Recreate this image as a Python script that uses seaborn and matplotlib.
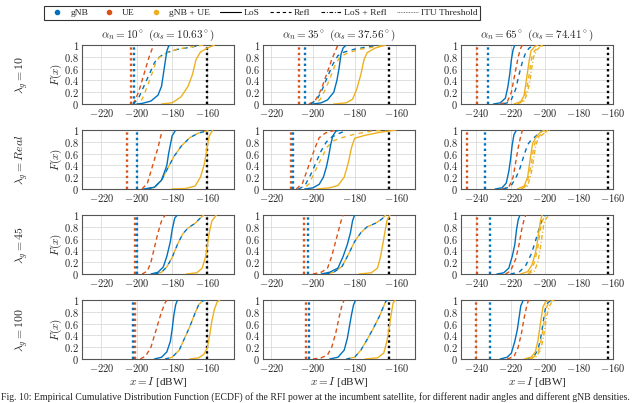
import matplotlib
matplotlib.use("Agg")
import matplotlib.pyplot as plt
import seaborn as sns
import pandas as pd
from matplotlib.lines import Line2D

# ---------------- data ----------------
lambda_labels = ["10", "Real", "45", "100"]
alpha_n = [10, 35, 65]
alpha_s = [10.63, 37.56, 74.41]
x_ticks = [[-220, -200, -180, -160],
           [-220, -200, -180, -160],
           [-240, -220, -200, -180, -160]]
y_ticks = [0, 0.2, 0.4, 0.6, 0.8, 1]

# vertical (deterministic) levels: UE, gNB, ITU threshold  [dBW]
vlines = {
    (0, 0): (-203.0, -201.5, -160.0), (0, 1): (-206.8, -203.7, -163.4), (0, 2): (-239.5, -233.3, -163.0),
    (1, 0): (-205.6, -200.0, -160.0), (1, 1): (-210.5, -209.8, -163.4), (1, 2): (-245.3, -234.7, -163.0),
    (2, 0): (-201.0, -200.0, -160.2), (2, 1): (-204.5, -202.6, -163.4), (2, 2): (-239.5, -232.2, -163.0),
    (3, 0): (-201.0, -202.0, -160.0), (3, 1): (-203.4, -201.8, -163.4), (3, 2): (-240.0, -231.8, -163.0),
}

# ECDF points (x [dBW], F) per panel, row = lambda_g, col = alpha_n
p00 = {
    "ue_refl": [(-202, 0), (-199, 0.2), (-196, 0.5), (-193, 0.8), (-190.5, 1)],
    "gnb_refl": [(-202, 0), (-199, 0.1), (-196, 0.3), (-193, 0.5), (-190, 0.7), (-188, 0.78), (-184, 0.86), (-178, 0.92), (-170, 0.96), (-163, 1)],
    "all_refl": [(-199, 0), (-197, 0.08), (-194, 0.3), (-191, 0.55), (-189, 0.72), (-187, 0.8), (-183, 0.87), (-177, 0.93), (-169, 0.97), (-162, 1)],
    "gnb_los": [(-200, 0), (-197, 0.01), (-192, 0.05), (-188, 0.15), (-186, 0.3), (-185, 0.5), (-184, 0.7), (-183, 0.9), (-182, 0.98), (-181, 1)],
    "all_los": [(-186, 0), (-180, 0.02), (-175, 0.12), (-171, 0.3), (-168.5, 0.5), (-166.5, 0.75), (-164, 0.88), (-160, 0.95), (-156, 1)],
}
p01 = {
    "ue_refl": [(-202, 0), (-199, 0.05), (-196, 0.25), (-193, 0.55), (-191, 0.75), (-189, 0.92), (-188, 1)],
    "gnb_refl": [(-201, 0), (-198, 0.08), (-195.5, 0.25), (-193.5, 0.42), (-190.5, 0.67), (-188, 0.82), (-185, 0.88), (-180, 0.93), (-175, 0.96), (-167, 1)],
    "all_refl": [(-199, 0), (-196.5, 0.08), (-194, 0.25), (-192, 0.42), (-189.5, 0.65), (-187, 0.8), (-183, 0.87), (-177, 0.93), (-170, 0.97), (-165, 1)],
    "gnb_los": [(-200, 0), (-196, 0.02), (-193, 0.07), (-190, 0.2), (-188.5, 0.4), (-187.5, 0.6), (-186.5, 0.85), (-185.5, 0.95), (-184, 1)],
    "all_los": [(-190, 0), (-184, 0.02), (-181, 0.08), (-179, 0.25), (-177, 0.5), (-175.5, 0.75), (-174, 0.87), (-170, 0.95), (-165, 1)],
}
p02 = {
    "ue_refl": [(-226, 0), (-222, 0.03), (-219.5, 0.2), (-217.5, 0.5), (-215.5, 0.8), (-214, 0.95), (-213, 1)],
    "gnb_refl": [(-224, 0), (-220, 0.04), (-217, 0.25), (-215, 0.5), (-213, 0.72), (-211, 0.88), (-209, 0.95), (-206, 1)],
    "all_refl": [(-217, 0), (-213, 0.05), (-211, 0.2), (-209.5, 0.42), (-208.5, 0.62), (-207.5, 0.8), (-206, 0.9), (-204, 0.96), (-201, 1)],
    "gnb_los": [(-230, 0), (-226, 0.02), (-223, 0.1), (-221.5, 0.3), (-220.5, 0.5), (-219.5, 0.75), (-218.5, 0.92), (-217.5, 1)],
    "all_los": [(-218, 0), (-214, 0.04), (-212, 0.15), (-211, 0.35), (-210, 0.55), (-209, 0.75), (-208, 0.9), (-206, 0.97), (-204, 1)],
    "all_lr": [(-216, 0), (-212, 0.05), (-210, 0.2), (-208.5, 0.42), (-207.5, 0.62), (-206.5, 0.8), (-205, 0.9), (-203, 0.96), (-200, 1)],
}
p10 = {
    "ue_refl": [(-197, 0), (-194, 0.1), (-191, 0.4), (-188, 0.7), (-186, 0.95), (-185, 1)],
    "gnb_refl": [(-194, 0), (-190, 0.03), (-186, 0.15), (-182, 0.38), (-179, 0.55), (-175, 0.72), (-170, 0.87), (-165, 0.95), (-158, 1)],
    "all_refl": [(-194, 0), (-190, 0.03), (-186, 0.15), (-182, 0.38), (-179, 0.55), (-175, 0.72), (-170, 0.87), (-165, 0.95), (-158, 1)],
    "gnb_los": [(-196, 0), (-190, 0.03), (-186, 0.15), (-183, 0.4), (-182, 0.6), (-180, 0.9), (-178, 1)],
    "all_los": [(-180, 0), (-172, 0.01), (-167, 0.05), (-164, 0.2), (-162, 0.4), (-161, 0.55), (-160, 0.75), (-159, 0.9), (-157, 1)],
}
p11 = {
    "ue_refl": [(-208, 0), (-205, 0.1), (-203, 0.3), (-201, 0.5), (-199, 0.7), (-197, 0.87), (-194, 0.95), (-190, 0.99), (-188, 1)],
    "gnb_refl": [(-207, 0), (-204, 0.05), (-201, 0.25), (-198.5, 0.45), (-196, 0.65), (-193.5, 0.8), (-191, 0.88), (-187, 0.95), (-183, 1)],
    "all_refl": [(-205, 0), (-202, 0.08), (-199, 0.3), (-196, 0.52), (-193, 0.72), (-190, 0.82), (-186, 0.87), (-180, 0.93), (-172, 0.98), (-165, 1)],
    "gnb_los": [(-204, 0), (-200, 0.02), (-197, 0.08), (-195, 0.2), (-193.5, 0.38), (-192.5, 0.55), (-191.5, 0.75), (-190.5, 0.9), (-189, 0.98), (-187, 1)],
    "all_los": [(-198, 0), (-192, 0.02), (-188, 0.06), (-185, 0.2), (-183, 0.45), (-181.5, 0.7), (-180, 0.86), (-175, 0.91), (-168, 0.96), (-160, 1)],
}
p12 = {
    "ue_refl": [(-225, 0), (-221, 0.03), (-218.5, 0.2), (-217, 0.45), (-215.5, 0.7), (-214, 0.9), (-213, 1)],
    "gnb_refl": [(-224, 0), (-220, 0.04), (-217, 0.18), (-214.5, 0.35), (-212, 0.58), (-210, 0.75), (-208, 0.83), (-205, 0.9), (-201, 1)],
    "all_refl": [(-215, 0), (-211, 0.05), (-209, 0.25), (-207.5, 0.5), (-206.5, 0.7), (-205, 0.85), (-202, 0.93), (-198, 1)],
    "gnb_los": [(-229, 0), (-225, 0.02), (-222.5, 0.1), (-221, 0.3), (-220, 0.5), (-219, 0.75), (-218, 0.92), (-216.5, 1)],
    "all_los": [(-216, 0), (-212, 0.05), (-210, 0.2), (-209, 0.4), (-208, 0.6), (-207, 0.78), (-205, 0.88), (-203, 0.95), (-200, 1)],
    "all_lr": [(-214, 0), (-210, 0.05), (-208, 0.25), (-206.5, 0.5), (-205.5, 0.7), (-204, 0.85), (-201, 0.93), (-197, 1)],
}
p20 = {
    "ue_refl": [(-197, 0), (-194, 0.05), (-192, 0.2), (-190, 0.45), (-188, 0.7), (-186, 0.9), (-184, 1)],
    "gnb_refl": [(-190, 0), (-186, 0.03), (-183, 0.12), (-180, 0.28), (-177, 0.5), (-174, 0.68), (-171, 0.78), (-167, 0.86), (-164, 0.95), (-162, 1)],
    "all_refl": [(-190, 0), (-186, 0.03), (-183, 0.12), (-180, 0.28), (-177, 0.5), (-174, 0.68), (-171, 0.78), (-167, 0.86), (-164, 0.95), (-162, 1)],
    "gnb_los": [(-192, 0), (-188, 0.03), (-185, 0.12), (-183, 0.3), (-181, 0.55), (-180, 0.75), (-178.5, 0.95), (-177, 1)],
    "all_los": [(-172, 0), (-166, 0.02), (-163, 0.1), (-161, 0.3), (-160, 0.5), (-159, 0.7), (-157.5, 0.9), (-155, 1)],
}
p21 = {
    "ue_refl": [(-200, 0), (-196, 0.03), (-193, 0.1), (-191, 0.3), (-189.5, 0.5), (-188, 0.7), (-186.5, 0.9), (-185.5, 1)],
    "gnb_refl": [(-194, 0), (-190, 0.03), (-186, 0.13), (-183, 0.33), (-180, 0.55), (-177, 0.7), (-174, 0.8), (-170, 0.86), (-167, 0.93), (-165, 1)],
    "all_refl": [(-194, 0), (-190, 0.03), (-186, 0.13), (-183, 0.33), (-180, 0.55), (-177, 0.7), (-174, 0.8), (-170, 0.86), (-167, 0.93), (-165, 1)],
    "gnb_los": [(-196, 0), (-192, 0.03), (-188, 0.1), (-185.5, 0.3), (-183.5, 0.5), (-182, 0.7), (-181, 0.9), (-180, 1)],
    "all_los": [(-178, 0), (-172, 0.02), (-169, 0.1), (-167.5, 0.3), (-166.5, 0.5), (-165.5, 0.7), (-164.5, 0.9), (-163, 1)],
}
p22 = {
    "ue_refl": [(-223, 0), (-220, 0.05), (-217, 0.25), (-215, 0.5), (-213.5, 0.75), (-212, 0.93), (-211, 1)],
    "gnb_refl": [(-220, 0), (-215, 0.03), (-211, 0.15), (-208, 0.33), (-206, 0.5), (-204, 0.7), (-202, 0.88), (-200.5, 0.97), (-199.5, 1)],
    "all_refl": [(-212, 0), (-208, 0.05), (-206, 0.2), (-204, 0.45), (-203, 0.65), (-202, 0.85), (-200.5, 0.95), (-199, 1)],
    "gnb_los": [(-228, 0), (-224, 0.02), (-221, 0.1), (-219, 0.3), (-217.5, 0.5), (-216.5, 0.75), (-215.5, 0.92), (-214.5, 1)],
    "all_los": [(-214, 0), (-210, 0.04), (-207.5, 0.15), (-205.5, 0.35), (-204.5, 0.5), (-203.5, 0.7), (-202.5, 0.9), (-201.5, 1)],
    "all_lr": [(-210, 0), (-206, 0.05), (-204, 0.2), (-202.5, 0.45), (-201.5, 0.65), (-200.5, 0.85), (-199, 0.95), (-197, 1)],
}
p30 = {
    "ue_refl": [(-198, 0), (-195, 0.05), (-192, 0.2), (-190, 0.4), (-188, 0.6), (-186, 0.8), (-184, 0.95), (-183, 1)],
    "gnb_refl": [(-184, 0), (-180, 0.03), (-176, 0.15), (-173, 0.35), (-170, 0.55), (-167, 0.78), (-165, 0.92), (-163, 0.98), (-161, 1)],
    "all_refl": [(-184, 0), (-180, 0.03), (-176, 0.15), (-173, 0.35), (-170, 0.55), (-167, 0.78), (-165, 0.92), (-163, 0.98), (-161, 1)],
    "gnb_los": [(-190, 0), (-186, 0.03), (-183, 0.12), (-181, 0.3), (-180, 0.5), (-179, 0.75), (-178, 0.92), (-177, 1)],
    "all_los": [(-170, 0), (-165, 0.02), (-162, 0.08), (-160, 0.2), (-158.5, 0.45), (-157.5, 0.65), (-156, 0.85), (-154.5, 0.97), (-153, 1)],
}
p31 = {
    "ue_refl": [(-200, 0), (-196, 0.02), (-193, 0.07), (-191, 0.2), (-189, 0.45), (-187.5, 0.7), (-186, 0.92), (-185, 1)],
    "gnb_refl": [(-184, 0), (-180, 0.03), (-177, 0.15), (-174, 0.33), (-171, 0.52), (-168, 0.73), (-166, 0.9), (-165, 0.98), (-164, 1)],
    "all_refl": [(-184, 0), (-180, 0.03), (-177, 0.15), (-174, 0.33), (-171, 0.52), (-168, 0.73), (-166, 0.9), (-165, 0.98), (-164, 1)],
    "gnb_los": [(-192, 0), (-188, 0.03), (-185, 0.15), (-183.5, 0.35), (-182.5, 0.55), (-181.5, 0.75), (-180.5, 0.92), (-179.5, 1)],
    "all_los": [(-175, 0), (-169, 0.02), (-166, 0.1), (-164.5, 0.3), (-163.5, 0.5), (-162.5, 0.75), (-161.5, 0.95), (-160.5, 1)],
}
p32 = {
    "ue_refl": [(-222, 0), (-218, 0.04), (-215.5, 0.2), (-213.5, 0.45), (-212, 0.7), (-210.5, 0.9), (-209.5, 1)],
    "gnb_refl": [(-210.5, 0), (-206.5, 0.04), (-204, 0.15), (-202.5, 0.33), (-201.5, 0.5), (-200.5, 0.7), (-199.5, 0.87), (-198, 0.96), (-195.5, 1)],
    "all_refl": [(-210, 0), (-206, 0.04), (-203.5, 0.15), (-202, 0.33), (-201, 0.5), (-200, 0.7), (-199, 0.87), (-197.5, 0.96), (-195, 1)],
    "gnb_los": [(-226, 0), (-222, 0.03), (-219.5, 0.1), (-217.5, 0.3), (-216, 0.5), (-215, 0.7), (-214, 0.9), (-212.5, 1)],
    "all_los": [(-212, 0), (-208, 0.03), (-205.5, 0.12), (-204, 0.3), (-203, 0.5), (-202, 0.7), (-201, 0.88), (-199.5, 0.97), (-197, 1)],
    "all_lr": [(-209, 0), (-205, 0.04), (-202.5, 0.15), (-201, 0.33), (-200, 0.5), (-199, 0.7), (-197.5, 0.88), (-196, 0.96), (-194, 1)],
}
panels = {(0, 0): p00, (0, 1): p01, (0, 2): p02,
          (1, 0): p10, (1, 1): p11, (1, 2): p12,
          (2, 0): p20, (2, 1): p21, (2, 2): p22,
          (3, 0): p30, (3, 1): p31, (3, 2): p32}

# ---------------- style ----------------
BLUE, RED, YEL = "#0072BD", "#D95319", "#EDB120"
DASH = (0, (3.2, 3.2))
DASH_OFF = (3.2, (3.2, 3.2))
DASHDOT = (0, (3.2, 1.6, 0.8, 1.6))
curve_style = {
    "ue_refl": (RED, (0, (3.2, 2.4))),
    "gnb_refl": (BLUE, DASH),
    "all_refl": (YEL, DASH_OFF),
    "gnb_los": (BLUE, "-"),
    "all_los": (YEL, "-"),
    "all_lr": (YEL, DASHDOT),
}
xlims = [(-231, -145), (-224, -151), (-249, -160)]

sns.set_theme(style="whitegrid")
plt.rcParams["font.family"] = ["Liberation Serif", "DejaVu Serif"]
plt.rcParams["mathtext.fontset"] = "cm"

W, H = 640, 403
fig = plt.figure(figsize=(W / 100, H / 100), dpi=100)
fig.patch.set_facecolor("white")

col_left = [82, 263, 461]
row_top = [45, 130, 215, 300]
aw, ah = 152, 59

for (r, c), pdata in panels.items():
    ax = fig.add_axes([col_left[c] / W, 1 - (row_top[r] + ah) / H, aw / W, ah / H])
    ax.set_facecolor("white")
    ue_v, gnb_v, itu_v = vlines[(r, c)]
    ax.axvline(ue_v, color=RED, ls=(0, (1, 1.3)), lw=1.7, zorder=2)
    ax.axvline(gnb_v, color=BLUE, ls=(0, (1, 1.3)), lw=1.7, zorder=2)
    ax.axvline(itu_v, color="black", ls=(0, (1, 1.3)), lw=1.7, zorder=2)
    for key, pts in pdata.items():
        col, ls = curve_style[key]
        df = pd.DataFrame(pts, columns=["x", "F"])
        sns.lineplot(data=df, x="x", y="F", ax=ax, color=col, linestyle=ls,
                     lw=1.0, sort=False, estimator=None, legend=False, zorder=3)
    ax.set_xlim(*xlims[c])
    ax.set_ylim(0, 1)
    ax.set_xticks(x_ticks[c])
    ax.set_xticklabels([f"${t}$" for t in x_ticks[c]], fontsize=7.5)
    ax.set_yticks(y_ticks)
    ax.set_yticklabels([f"${t:g}$" for t in y_ticks], fontsize=7.5)
    ax.tick_params(length=0, pad=2)
    ax.grid(True, color="#dadada", lw=0.6)
    ax.set_xlabel("")
    ax.set_ylabel("")
    for s in ax.spines.values():
        s.set_color("#555555")
        s.set_linewidth(0.8)
    if r == 0:
        ax.set_title(rf"$\alpha_n = {alpha_n[c]}^\circ\ (\alpha_s = {alpha_s[c]}^\circ)$",
                     fontsize=8, pad=5)
    if c == 0:
        yc = 1 - (row_top[r] + ah / 2) / H
        lab = lambda_labels[r]
        lab_tex = r"\mathit{Real}" if lab == "Real" else lab
        fig.text(22 / W, yc, rf"$\lambda_g = {lab_tex}$", rotation=90,
                 ha="center", va="center", fontsize=8.5)
        fig.text(56 / W, yc, r"$F(x)$", rotation=90, ha="center", va="center", fontsize=8)
    if r == 3:
        fig.text((col_left[c] + aw / 2) / W, 1 - 382 / H, r"$x = I$ [dBW]",
                 ha="center", va="center", fontsize=8)

handles = [
    Line2D([], [], ls="none", marker="o", ms=3.0, color=BLUE, label="gNB"),
    Line2D([], [], ls="none", marker="o", ms=3.0, color=RED, label="UE"),
    Line2D([], [], ls="none", marker="o", ms=3.0, color=YEL, label="gNB + UE"),
    Line2D([], [], color="black", lw=0.8, ls="-", label="LoS"),
    Line2D([], [], color="black", lw=0.8, ls=(0, (3.0, 2.5)), label="Refl"),
    Line2D([], [], color="black", lw=0.8, ls=DASHDOT, label="LoS + Refl"),
    Line2D([], [], color="#555555", lw=0.6, ls=(0, (1, 1)), label="ITU Threshold"),
]
leg = fig.legend(handles=handles, loc="upper center", bbox_to_anchor=(262 / W, 1 - 1 / H),
                 ncol=7, fontsize=6.8, frameon=True, fancybox=False, edgecolor="black",
                 handlelength=2.2, handletextpad=0.3, columnspacing=1.1, borderpad=0.3,
                 markerscale=1.0)
leg.get_frame().set_linewidth(0.8)

fig.text(1 / W, 1 - 397 / H,
         "Fig. 10: Empirical Cumulative Distribution Function (ECDF) of the RFI power at the incumbent "
         "satellite, for different nadir angles and different gNB densities.",
         ha="left", va="center", fontsize=7.0)

fig.savefig("out.png", dpi=100, facecolor="white")
